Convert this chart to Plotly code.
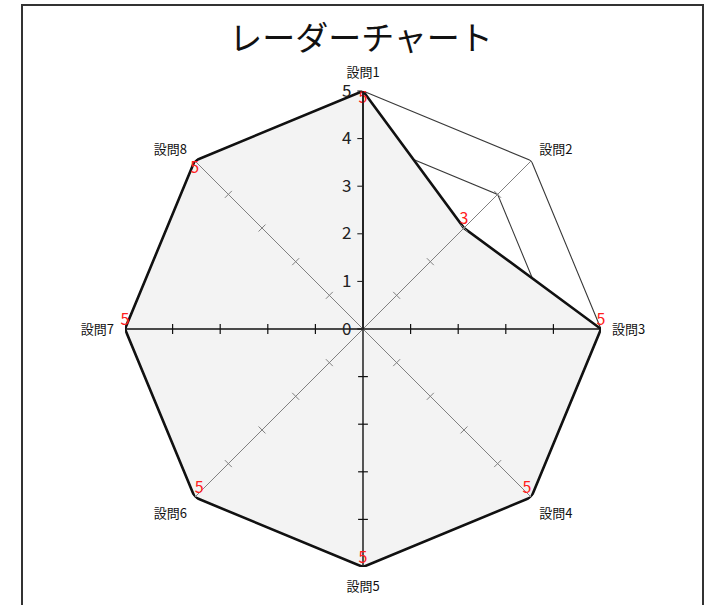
import plotly.graph_objects as go

# ---- data ----
categories = ["設問1", "設問2", "設問3", "設問4", "設問5", "設問6", "設問7", "設問8"]
main_values = [5, 3, 5, 5, 5, 5, 5, 5]
series_outer = [5, 5, 5, 5, 5, 5, 5, 5]
series_inner = [4, 4, 4, 4, 4, 4, 4, 4]
radial_ticks = [0, 1, 2, 3, 4, 5]
spoke_ticks = [1, 2, 3, 4]
title_text = "レーダーチャート"

FONT = "Noto Sans CJK JP"


def closed(vals):
    return list(vals) + [vals[0]]


fig = go.Figure()

# thin background series (mostly hidden under the filled series)
for vals in (series_outer, series_inner):
    fig.add_trace(go.Scatterpolar(
        r=closed(vals), theta=closed(categories), mode="lines",
        line=dict(color="#3a3a3a", width=1.1), hoverinfo="skip", showlegend=False))

# main filled series
fig.add_trace(go.Scatterpolar(
    r=closed(main_values), theta=closed(categories), mode="lines",
    fill="toself", fillcolor="#f3f3f3",
    line=dict(color="#111111", width=2.6), showlegend=False))

# spokes (category axes) drawn above the fill
for i, cat in enumerate(categories):
    major = (i % 2 == 0)
    col = "#111111" if major else "#808080"
    fig.add_trace(go.Scatterpolar(
        r=[radial_ticks[0], radial_ticks[-1]], theta=[cat, cat], mode="lines",
        line=dict(color=col, width=1.4 if major else 1),
        hoverinfo="skip", showlegend=False))
    if i != 0:
        fig.add_trace(go.Scatterpolar(
            r=spoke_ticks, theta=[cat] * len(spoke_ticks), mode="markers",
            marker=dict(symbol="line-ew", size=7, angle=45 * i,
                        line=dict(color=col, width=1.2 if major else 1)),
            hoverinfo="skip", showlegend=False))

# red data labels
positions = ["bottom center", "top center", "top center", "top left",
             "top center", "top right", "top center", "bottom center"]
fig.add_trace(go.Scatterpolar(
    r=main_values, theta=categories, mode="text",
    text=[str(v) for v in main_values], textposition=positions,
    textfont=dict(color="#ff2020", size=16, family=FONT),
    cliponaxis=False, hoverinfo="skip", showlegend=False))

cx, cy, rad = 363, 329, 238
W, H = 715, 605

fig.update_layout(
    width=W, height=H,
    margin=dict(l=0, r=0, t=0, b=0),
    paper_bgcolor="white", plot_bgcolor="white",
    font=dict(family=FONT, color="#111111"),
    title=dict(text=title_text, x=361 / W, xanchor="center",
               y=1 - 38 / H, yanchor="middle", yref="container",
               font=dict(size=33, family=FONT, color="#111111")),
    polar=dict(
        bgcolor="rgba(0,0,0,0)",
        domain=dict(x=[(cx - rad) / W, (cx + rad) / W],
                    y=[1 - (cy + rad) / H, 1 - (cy - rad) / H]),
        gridshape="circular",
        angularaxis=dict(type="category", categoryarray=categories,
                         direction="clockwise", rotation=90,
                         showgrid=False, showline=False,
                         ticks="outside", ticklen=8,
                         tickcolor="rgba(0,0,0,0)",
                         tickfont=dict(size=13, color="#111111")),
        radialaxis=dict(range=[0, 5], tickvals=radial_ticks, angle=90,
                        tickangle=90,
                        side="counterclockwise", showgrid=False,
                        showline=True, linecolor="#111111", linewidth=1.4,
                        ticks="outside", ticklen=5, tickcolor="#111111",
                        layer="above traces",
                        tickfont=dict(size=17, color="#222222")),
    ),
    shapes=[dict(type="rect", xref="paper", yref="paper",
                 x0=22 / W, x1=703 / W, y0=-0.05, y1=1 - 5 / H,
                 line=dict(color="#333333", width=2),
                 fillcolor="rgba(0,0,0,0)", layer="above")],
)

fig.write_html("out.html", config={"displayModeBar": False},
               post_script="document.body.style.margin='0px';")
